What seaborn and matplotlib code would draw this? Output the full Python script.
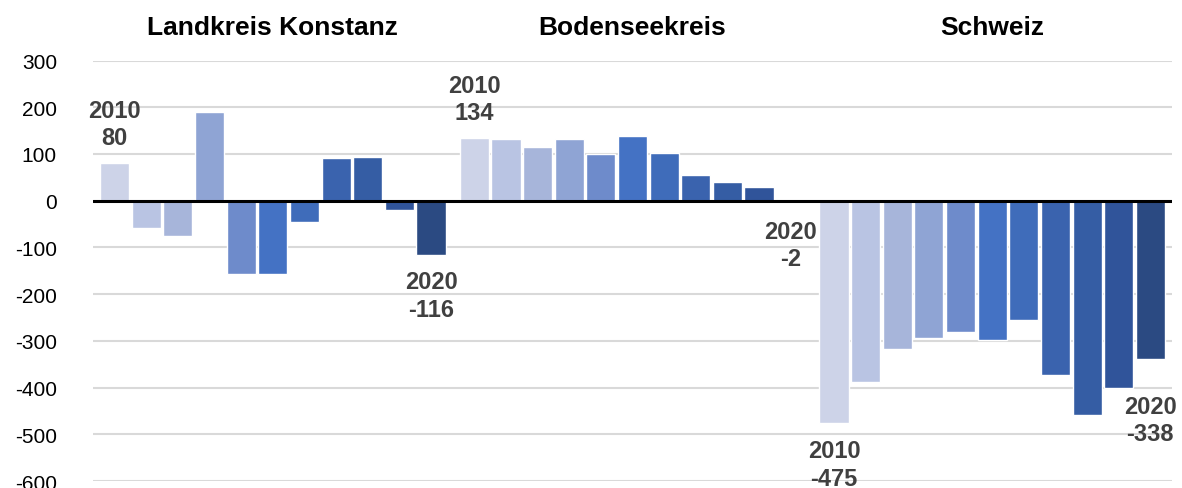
import matplotlib
matplotlib.use("Agg")
import matplotlib.pyplot as plt
import seaborn as sns
import pandas as pd

# Data
years = [str(y) for y in range(2010, 2021)]
regions = ["Landkreis Konstanz", "Bodenseekreis", "Schweiz"]
konstanz = [80, -58, -75, 189, -157, -157, -45, 91, 94, -21, -116]
bodensee = [134, 131, 114, 131, 99, 138, 101, 54, 40, 29, -2]
schweiz = [-475, -388, -318, -294, -282, -298, -255, -374, -459, -400, -338]
colors = ["#CDD3E8", "#B9C4E3", "#A7B5DA", "#8FA4D4", "#6E8BCB", "#4472C4",
          "#3F6CBA", "#3A63AE", "#355DA4", "#30549A", "#2B4A82"]

rows = []
for reg, vals in zip(regions, [konstanz, bodensee, schweiz]):
    for yr, v in zip(years, vals):
        rows.append({"region": reg, "year": yr, "value": v})
df = pd.DataFrame(rows)

sns.set_style("white")
plt.rcParams["font.family"] = ["Liberation Sans", "DejaVu Sans"]
plt.rcParams["axes.unicode_minus"] = False

fig = plt.figure(figsize=(11.82, 4.89), dpi=100)
ax = fig.add_axes([93 / 1182, 7 / 489, 1079 / 1182, 420.5 / 489])

sns.barplot(data=df, x="region", y="value", hue="year", order=regions,
            hue_order=years, palette=colors, saturation=1, width=0.9675,
            gap=0.08, legend=False, ax=ax, zorder=3)

ax.set_xlim(-0.5, 2.5)
ax.set_ylim(-600, 300)
ax.set_yticks(range(-600, 301, 100))
ax.yaxis.grid(True, color="#D9D9D9", linewidth=1.5, zorder=0)
ax.set_axisbelow(True)
ax.axhline(0, color="black", linewidth=2.2, zorder=4)
for s in ax.spines.values():
    s.set_visible(False)
ax.set_xticks([])
ax.set_xlabel("")
ax.set_ylabel("")
ax.tick_params(axis="y", length=0, pad=26, labelsize=15, labelcolor="black")

# group titles on top
for i, reg in enumerate(regions):
    ax.text(i, 1.08, reg, transform=ax.get_xaxis_transform(), ha="center",
            va="center", fontsize=19, fontweight="bold", color="black")

# first/last year labels
bars = {}
for (reg, yr), p in zip([(r, y) for y in years for r in regions], ax.patches):
    bars[(reg, yr)] = p

label_specs = [
    ("Landkreis Konstanz", years[0], konstanz[0], 10),
    ("Landkreis Konstanz", years[-1], konstanz[-1], -11),
    ("Bodenseekreis", years[0], bodensee[0], 10),
    ("Bodenseekreis", years[-1], bodensee[-1], -13),
    ("Schweiz", years[0], schweiz[0], -12),
    ("Schweiz", years[-1], schweiz[-1], -26),
]
for reg, yr, val, off in label_specs:
    p = bars[(reg, yr)]
    xc = p.get_x() + p.get_width() / 2
    ax.annotate(f"{yr}\n{val}", xy=(xc, val), xytext=(0, off),
                textcoords="offset points", ha="center",
                va="bottom" if off > 0 else "top", fontsize=17,
                fontweight="bold", color="#404040", linespacing=1.25,
                annotation_clip=False, zorder=5)

fig.savefig("out.png", dpi=100)
